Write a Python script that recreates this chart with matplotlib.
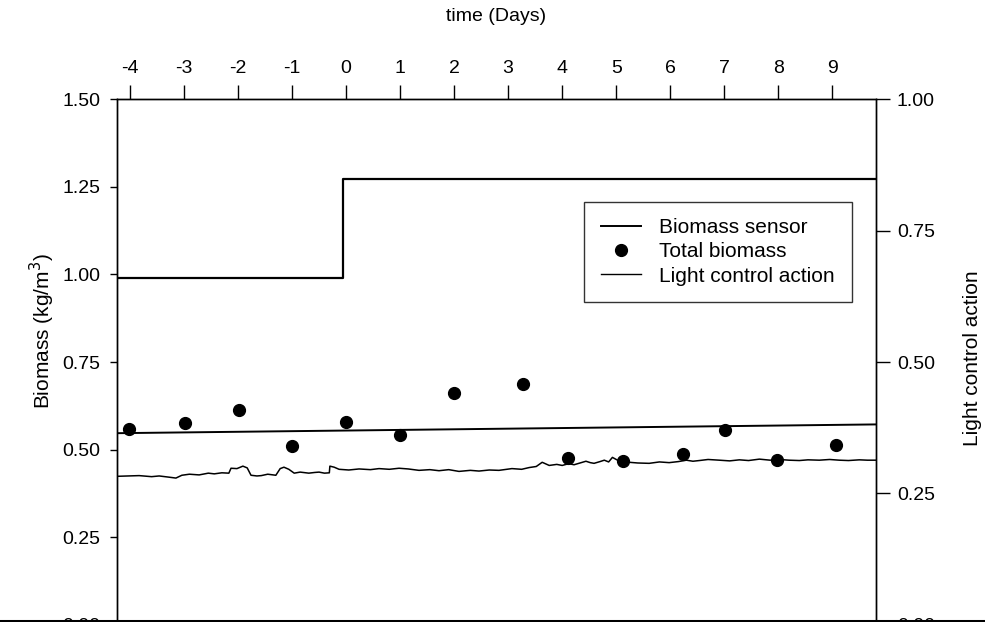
import numpy as np
import matplotlib.pyplot as plt
from matplotlib.lines import Line2D

plt.rcParams['font.family'] = ['Liberation Sans', 'DejaVu Sans']
plt.rcParams['axes.unicode_minus'] = False

# biomass sensor trace (days, kg/m3)
sensor_days = [-4.24, -3.83, -3.60, -3.46, -3.30, -3.15, -3.04, -2.90, -2.72, -2.55,
               -2.44, -2.30, -2.17, -2.13, -2.02, -1.91, -1.83, -1.76, -1.65, -1.57,
               -1.45, -1.30, -1.22, -1.15, -1.06, -0.96, -0.85, -0.69, -0.58, -0.50,
               -0.40, -0.31, -0.30, -0.22, -0.13, 0.05, 0.24, 0.45, 0.61, 0.80,
               0.98, 1.15, 1.35, 1.55, 1.72, 1.90, 2.09, 2.30, 2.46, 2.65,
               2.83, 3.07, 3.25, 3.39, 3.52, 3.63, 3.76, 3.90, 4.00, 4.12,
               4.22, 4.33, 4.44, 4.52, 4.59, 4.70, 4.78, 4.86, 4.93, 5.06,
               5.15, 5.24, 5.40, 5.61, 5.80, 5.98, 6.15, 6.30, 6.42, 6.54,
               6.70, 6.91, 7.10, 7.28, 7.45, 7.65, 7.85, 8.02, 8.20, 8.39,
               8.55, 8.76, 8.95, 9.13, 9.30, 9.50, 9.65, 9.81]
sensor_vals = [0.424, 0.426, 0.423, 0.425, 0.422, 0.419, 0.427, 0.430, 0.428, 0.433,
               0.431, 0.434, 0.433, 0.447, 0.446, 0.453, 0.448, 0.427, 0.425, 0.426,
               0.430, 0.427, 0.446, 0.450, 0.444, 0.433, 0.436, 0.433, 0.435, 0.436,
               0.433, 0.434, 0.453, 0.450, 0.444, 0.442, 0.445, 0.443, 0.446, 0.444,
               0.447, 0.445, 0.441, 0.443, 0.440, 0.443, 0.438, 0.441, 0.439, 0.442,
               0.441, 0.446, 0.444, 0.449, 0.452, 0.464, 0.455, 0.458, 0.455, 0.460,
               0.457, 0.462, 0.467, 0.463, 0.461, 0.466, 0.470, 0.465, 0.478, 0.467,
               0.463, 0.464, 0.462, 0.461, 0.465, 0.463, 0.466, 0.470, 0.467, 0.469,
               0.472, 0.470, 0.468, 0.471, 0.469, 0.473, 0.470, 0.472, 0.470, 0.469,
               0.471, 0.470, 0.472, 0.470, 0.469, 0.471, 0.470, 0.470]

# biomass setpoint (kg/m3)
setpoint_days = [-4.24, 9.81]
setpoint_vals = [0.547, 0.572]

# total biomass samples
sample_days = [-4.02, -2.99, -1.98, -1.00, 0.00, 1.00, 2.00, 3.28, 4.11, 5.13, 6.24, 7.02, 7.98, 9.06]
sample_vals = [0.560, 0.577, 0.612, 0.510, 0.578, 0.541, 0.663, 0.686, 0.475, 0.467, 0.487, 0.555, 0.470, 0.512]

# light control action (right axis)
light_days = [-4.24, -0.05, -0.05, 9.81]
light_vals = [0.660, 0.660, 0.848, 0.848]

day_ticks = list(range(-4, 10))
left_ticks = [0, 0.25, 0.5, 0.75, 1.0, 1.25, 1.5]
right_ticks = [0, 0.25, 0.5, 0.75, 1.0]

fig = plt.figure(figsize=(9.85, 6.22), dpi=100)
ax = fig.add_axes([0.1188, -0.0048, 0.7706, 0.8456])
ax2 = ax.twinx()

ax.plot(sensor_days, sensor_vals, color='black', lw=1.1)
ax.plot(setpoint_days, setpoint_vals, color='black', lw=1.4)
ax.plot(sample_days, sample_vals, 'o', color='black', ms=8.5, zorder=5)
ax2.plot(light_days, light_vals, color='black', lw=1.6)

ax.set_xlim(-4.24, 9.81)
ax.set_ylim(0, 1.5)
ax2.set_ylim(0, 1.0)

ax.set_yticks(left_ticks)
ax.set_yticklabels(['%.2f' % v for v in left_ticks])
ax2.set_yticks(right_ticks)
ax2.set_yticklabels(['%.2f' % v for v in right_ticks])

ax.set_xticks(day_ticks)
ax.xaxis.tick_top()
ax.xaxis.set_label_position('top')
ax.tick_params(axis='x', direction='out', length=10, width=1, labelsize=14, pad=6)
ax.tick_params(axis='y', direction='out', length=5, width=1, labelsize=14, pad=7)
ax2.tick_params(axis='y', direction='out', length=10, width=1, labelsize=14, pad=5)

for a in (ax, ax2):
    for s in a.spines.values():
        s.set_linewidth(1.0)

ax.set_xlabel('time (Days)', fontsize=14, labelpad=28)
ax.set_ylabel('Biomass (kg/m$^3$)', fontsize=15)
ax.yaxis.set_label_coords(-0.079, 0.558)
ax2.set_ylabel('Light control action', fontsize=15)
ax2.yaxis.set_label_coords(1.115, 0.507)

handles = [Line2D([], [], color='black', lw=1.4),
           Line2D([], [], color='black', marker='o', ls='none', ms=8.5),
           Line2D([], [], color='black', lw=1.0)]
leg = ax.legend(handles, ['Biomass sensor', 'Total biomass', 'Light control action'],
                loc='upper right', bbox_to_anchor=(0.968, 0.805), fontsize=15,
                frameon=True, fancybox=False, edgecolor='black', handlelength=1.9,
                labelspacing=0.25, borderpad=0.8, handletextpad=0.9, borderaxespad=0)
leg.get_frame().set_linewidth(1.0)

# dark edge along the bottom of the page
fig.add_artist(Line2D([0, 1], [0.002, 0.002], transform=fig.transFigure, color='black', lw=2.2))

fig.savefig('out.png', dpi=100)
